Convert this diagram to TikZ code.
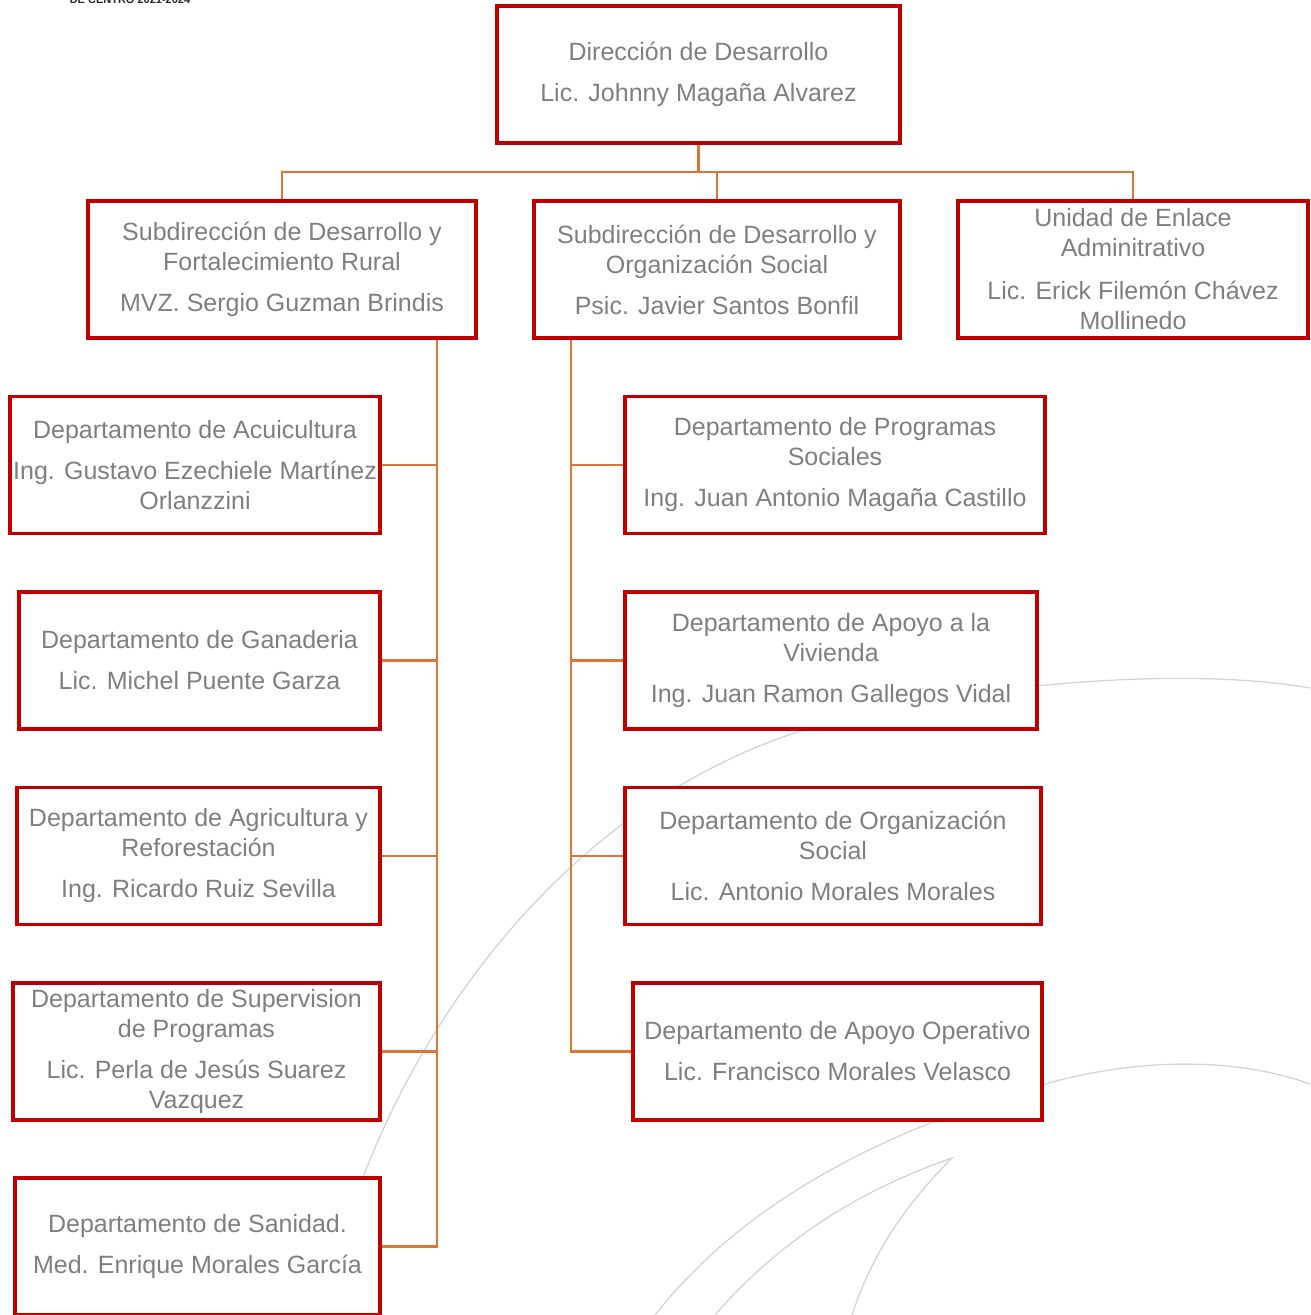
\documentclass[tikz,border=0pt]{standalone}
\usepackage{fontspec}
\setmainfont{Liberation Sans}
\usetikzlibrary{positioning}
\definecolor{cargoRojo}{HTML}{C00000}
\definecolor{lineaNaranja}{HTML}{DC7634}
\definecolor{textoGris}{HTML}{7F7F7F}
\definecolor{trazoGris}{HTML}{D4D4D4}
\newcommand{\tikzCargo}[4]{\node[cargo, minimum width = #2pt] (#1) at #3 {#4}}

\begin{document}
\begin{tikzpicture}[x = 1pt, y = -1pt,
                    cargo/.style = {draw = cargoRojo, line width = 3.6pt, fill = white,
                                    minimum height = 137pt, inner sep = 0pt, align = center,
                                    text = textoGris, font = \fontsize{25}{30}\selectfont},
                    liga/.style = {draw = lineaNaranja, line width = 2.6pt},
                    trazo/.style = {draw = trazoGris, line width = 1.3pt}]
                        \useasboundingbox (0,0) rectangle (1310,1315);
                        \node[anchor = base, font = \bfseries\fontsize{11}{11}\selectfont, text = black!85] (encabezado) at (130,3) {DE CENTRO 2021-2024};
                        \draw[trazo] (362,1180) .. controls (430,1000) and (580,800) .. (804,730)
                                                .. controls (950,685) and (1180,665) .. (1310,688);
                        \draw[trazo] (655,1315) .. controls (730,1220) and (850,1140) .. (1045,1084)
                                                .. controls (1130,1060) and (1230,1055) .. (1310,1084);
                        \draw[trazo] (715,1315) .. controls (780,1240) and (860,1190) .. (952,1158)
                                                .. controls (900,1210) and (870,1260) .. (852,1315);
                        \tikzCargo{dir}{403}{(698.5,74.5)}{Dirección de Desarrollo\\[11pt]Lic. Johnny Magaña Alvarez};
                        \tikzCargo{subrural}{388}{(282,269.5)}{Subdirección de Desarrollo y\\Fortalecimiento Rural\\[11pt]MVZ. Sergio Guzman Brindis};
                        \tikzCargo{subsocial}{366}{(717,269.5)}{Subdirección de Desarrollo y\\Organización Social\\[11pt]Psic. Javier Santos Bonfil};
                        \tikzCargo{enlace}{350}{(1133,269.5)}{Unidad de Enlace\\Adminitrativo\\[13pt]Lic. Erick Filemón Chávez\\Mollinedo};
                        \tikzCargo{acuicultura}{370}{(195,465)}{Departamento de Acuicultura\\[11pt]Ing. Gustavo Ezechiele Martínez\\Orlanzzini};
                        \tikzCargo{ganaderia}{361}{(199.5,660.5)}{Departamento de Ganaderia\\[11pt]Lic. Michel Puente Garza};
                        \tikzCargo{agricultura}{363}{(198.5,856)}{Departamento de Agricultura y\\Reforestación\\[11pt]Ing. Ricardo Ruiz Sevilla};
                        \tikzCargo{supervision}{367}{(196.5,1051.5)}{Departamento de Supervision\\de Programas\\[11pt]Lic. Perla de Jesús Suarez\\Vazquez};
                        \tikzCargo{sanidad}{365}{(197.5,1246.5)}{Departamento de Sanidad.\\[11pt]Med. Enrique Morales García};
                        \tikzCargo{programas}{420}{(835,465)}{Departamento de Programas\\Sociales\\[11pt]Ing. Juan Antonio Magaña Castillo};
                        \tikzCargo{vivienda}{412}{(831,660.5)}{Departamento de Apoyo a la\\Vivienda\\[11pt]Ing. Juan Ramon Gallegos Vidal};
                        \tikzCargo{organizacion}{416}{(833,856)}{Departamento de Organización\\Social\\[11pt]Lic. Antonio Morales Morales};
                        \tikzCargo{operativo}{409}{(837.5,1051.5)}{Departamento de Apoyo Operativo\\[11pt]Lic. Francisco Morales Velasco};
                        \coordinate (bus) at (0,172);
                        \coordinate (izq) at (437,0);
                        \coordinate (der) at (571,0);
                        \draw[liga] (dir.south) -- (dir.south |- bus);
                        \draw[liga] (subrural.north) |- (enlace.north |- bus) -- (enlace.north);
                        \draw[liga] (subsocial.north) -- (subsocial.north |- bus);
                        \foreach \depto in {acuicultura,ganaderia,agricultura,supervision,sanidad}{
                            \draw[liga] (subrural.south -| izq) |- (\depto.east);
                          }
                        \foreach \depto in {programas,vivienda,organizacion,operativo}{
                            \draw[liga] (subsocial.south -| der) |- (\depto.west);
                          }
                      \end{tikzpicture}
\end{document}
